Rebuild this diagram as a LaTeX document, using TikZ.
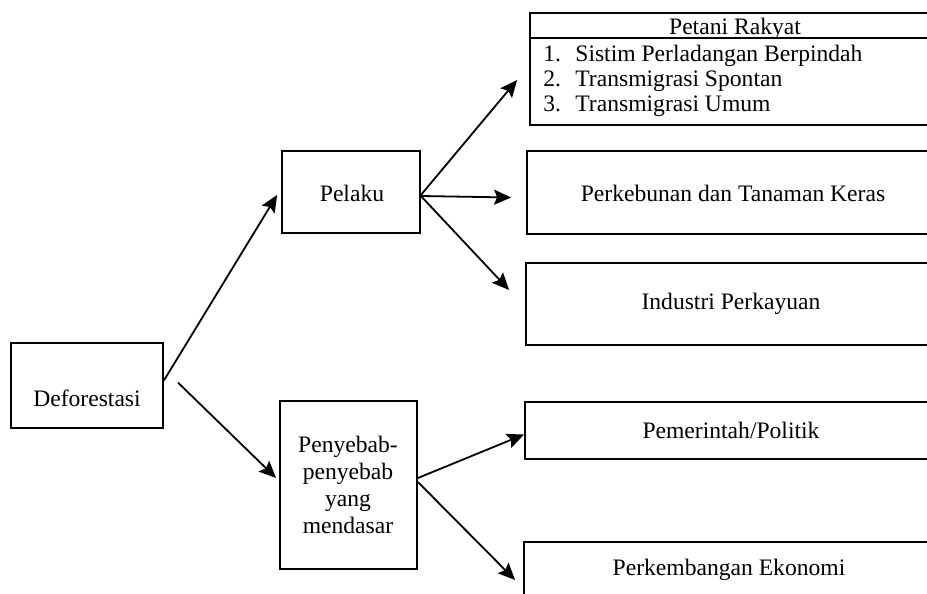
\documentclass[tikz,border=0pt]{standalone}
\usepackage{fontspec}
\setmainfont{Liberation Serif}
\usetikzlibrary{calc,arrows.meta}
\begin{document}
\begin{tikzpicture}[x=0.5pt,y=-0.5pt,
  box/.style={draw, line width=0.9pt, inner sep=0pt},
  txt/.style={inner sep=0pt, font=\fontsize{11.8}{13.5}\selectfont, align=center},
  arr/.style={line width=0.9pt, -{Stealth[length=8.5pt,width=7.5pt,inset=1.5pt]}}]
\useasboundingbox (0,0) rectangle (927,594);
\clip (0,0) rectangle (927,594);
% boxes
\node[box, minimum width=76pt, minimum height=42.5pt] (defor) at (87,385.5) {};
\node[box, minimum width=69pt, minimum height=41pt] (pelaku) at (351,192) {};
\node[box, minimum width=68.5pt, minimum height=84pt] (penyebab) at (348.5,485) {};
\node[box, minimum width=205pt, minimum height=56pt] (petani) at (735,69) {};
\node[box, minimum width=206pt, minimum height=41.5pt] (kebun) at (733,192.5) {};
\node[box, minimum width=205pt, minimum height=41pt] (industri) at (731,304) {};
\node[box, minimum width=205.5pt, minimum height=28.5pt] (pemerintah) at (730.5,430.5) {};
\node[box, minimum width=206pt, minimum height=29pt] (ekonomi) at (730,571) {};
\draw[line width=0.9pt] (petani.west |- 0,38) coordinate (sepl) -- (petani.east |- 0,38) coordinate (sepr);
% texts
\node[txt] (tdefor) at (87,398) {Deforestasi};
\node[txt] (tpelaku) at (352,193) {Pelaku};
\node[txt] (tpenyebab) at (348,485) {Penyebab-\\penyebab\\yang\\mendasar};
\node[txt] (tpetani) at (735,29) {Petani Rakyat};
\node[txt, anchor=west, align=left, font=\fontsize{11.8}{12.5}\selectfont] (titems) at (543,81)
  {\makebox[16pt][l]{1.}Sistim Perladangan Berpindah\\
   \makebox[16pt][l]{2.}Transmigrasi Spontan\\
   \makebox[16pt][l]{3.}Transmigrasi Umum};
\node[txt] (tkebun) at (733,193) {Perkebunan dan Tanaman Keras};
\node[txt] (tindustri) at (731,304) {Industri Perkayuan};
\node[txt] (tpemerintah) at (731,430) {Pemerintah/Politik};
\node[txt] (tekonomi) at (729,570) {Perkembangan Ekonomi};
% arrows
\draw[arr] ($(defor.east)+(0,-5)$) -- ($(pelaku.west)+(-4,3)$);
\draw[arr] ($(defor.east)+(14,-3)$) -- ($(penyebab.west)+(-3,-7)$);
\draw[arr] ($(pelaku.east)+(0,3)$) -- ($(petani.west)+(-12,11)$);
\draw[arr] ($(pelaku.east)+(0,4)$) -- ($(kebun.west)+(-15,5)$);
\draw[arr] ($(pelaku.east)+(0,4)$) -- ($(industri.west)+(-16,-14)$);
\draw[arr] ($(penyebab.east)+(0,-7)$) -- ($(pemerintah.west)+(0,4)$);
\draw[arr] ($(penyebab.east)+(0,-3)$) -- ($(ekonomi.west)+(-8,9)$);
\end{tikzpicture}
\end{document}
